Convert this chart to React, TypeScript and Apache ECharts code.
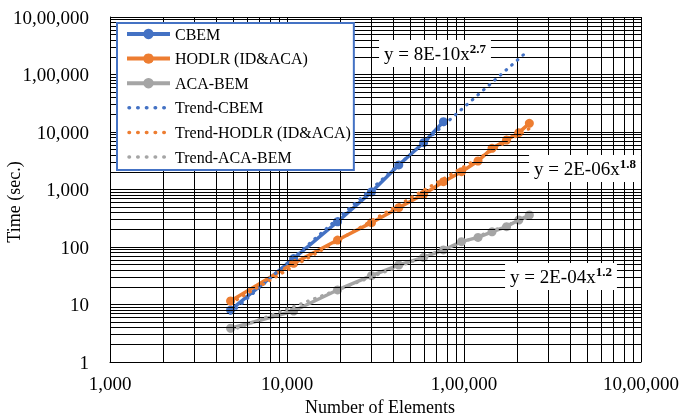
import React, { useEffect, useRef } from "react";
import * as echarts from "echarts";

const FONT = "'Liberation Serif', 'Times New Roman', serif";

const xElements = [4800, 10900, 19300, 30000, 42800, 59100, 76500, 96800, 120000, 144000, 174000, 204000, 234000];
const cbemTime = [8.0, 63, 275, 905, 2670, 6510, 15100];
const hodlrTime = [11.5, 52, 132, 265, 482, 826, 1367, 2040, 3130, 5200, 7260, 9730, 14150];
const acaTime = [3.86, 7.7, 17.9, 31.7, 48.6, 66.2, 88.8, 124, 147, 184, 226, 295, 360];

const trendCbemX = [4800, 218000];
const trendCbemY = [7.05, 224000];
const trendHodlrX = [4800, 234000];
const trendHodlrY = [10.5, 11500];
const trendAcaX = [4800, 234000];
const trendAcaY = [3.5, 337];

const xTickLabels = ["1,000", "10,000", "1,00,000", "10,00,000"];
const yTickLabels = ["1", "10", "100", "1,000", "10,000", "1,00,000", "10,00,000"];

const seriesNames = ["CBEM", "HODLR (ID&ACA)", "ACA-BEM", "Trend-CBEM", "Trend-HODLR (ID&ACA)", "Trend-ACA-BEM"];
const colors = ["#4472C4", "#ED7D31", "#A5A5A5"];

const equations = [
  { base: "y = 8E-10x", exp: "2.7" },
  { base: "y = 2E-06x", exp: "1.8" },
  { base: "y = 2E-04x", exp: "1.2" },
];

function zip(xs: number[], ys: number[]) {
  return ys.map((y, i) => [xs[i], y]);
}

function minorValues(from: number, to: number) {
  const out: number[] = [];
  for (let d = from; d < to; d *= 10) {
    for (let k = 2; k <= 9; k++) out.push(k * d);
  }
  return out;
}

export default function App() {
  const ref = useRef<HTMLDivElement>(null);
  useEffect(() => {
    if (!ref.current) return;
    const chart = echarts.init(ref.current, null, { renderer: "svg" });

    const dataSeries = [cbemTime, hodlrTime, acaTime].map((ys, i) => ({
      name: seriesNames[i],
      type: "line",
      data: zip(xElements, ys),
      symbol: "circle",
      symbolSize: 9,
      showAllSymbol: true,
      z: 4,
      itemStyle: { color: colors[i] },
      lineStyle: { color: colors[i], width: 3.5 },
    }));

    const trends = [
      [trendCbemX, trendCbemY],
      [trendHodlrX, trendHodlrY],
      [trendAcaX, trendAcaY],
    ].map(([xs, ys], i) => ({
      name: seriesNames[i + 3],
      type: "line",
      data: zip(xs, ys),
      symbol: "none",
      z: 5,
      itemStyle: { color: colors[i] },
      lineStyle: { color: colors[i], width: 3.2, type: [0.5, 7], cap: "round" },
    }));

    const gridHost = {
      name: "minor-grid",
      type: "line",
      data: [],
      z: 1,
      silent: true,
      markLine: {
        silent: true,
        symbol: ["none", "none"],
        label: { show: false },
        lineStyle: { color: "#000", width: 1, type: "solid" },
        emphasis: { disabled: true },
        data: [
          ...minorValues(1000, 1000000).map((v) => ({ xAxis: v })),
          ...minorValues(1, 1000000).map((v) => ({ yAxis: v })),
        ],
      },
    };

    const eqPos = [
      [435, 53.5],
      [585, 168.5],
      [561, 276.5],
    ];

    const legendData = seriesNames.map((name, i) =>
      i < 3
        ? { name, itemStyle: { color: colors[i] }, lineStyle: { color: colors[i], width: 4 } }
        : {
            name,
            itemStyle: { opacity: 0 },
            lineStyle: { color: colors[i - 3], width: 3.5, type: [0.5, 8.2], cap: "round", dashOffset: -2 },
          }
    );

    chart.setOption({
      animation: false,
      grid: { left: 110, right: 37, top: 17, bottom: 56 },
      legend: {
        data: legendData,
        orient: "vertical",
        left: 117,
        top: 23,
        padding: [3, 3, 5, 8],
        itemGap: 8.6,
        itemWidth: 43,
        itemHeight: 13,
        backgroundColor: "#fff",
        borderColor: "#4472C4",
        borderWidth: 2,
        borderRadius: 0,
        selectedMode: false,
        textStyle: { fontSize: 16, fontFamily: FONT, color: "#000" },
        z: 10,
      },
      xAxis: {
        type: "log",
        logBase: 10,
        min: 1000,
        max: 1000000,
        splitNumber: 3,
        axisLine: { show: true, lineStyle: { color: "#000", width: 1 } },
        axisTick: { show: false },
        axisLabel: {
          fontSize: 19,
          fontFamily: FONT,
          color: "#000",
          margin: 12,
          formatter: (v: number) => xTickLabels[Math.round(Math.log10(v)) - 3] ?? "",
        },
        splitLine: { show: true, lineStyle: { color: "#000", width: 1 } },
      },
      yAxis: {
        type: "log",
        logBase: 10,
        min: 1,
        max: 1000000,
        splitNumber: 6,
        axisLine: { show: true, lineStyle: { color: "#000", width: 1 } },
        axisTick: { show: false },
        axisLabel: {
          fontSize: 19,
          fontFamily: FONT,
          color: "#000",
          margin: 21,
          formatter: (v: number) => yTickLabels[Math.round(Math.log10(v))] ?? "",
        },
        splitLine: { show: true, lineStyle: { color: "#000", width: 1 } },
      },
      graphic: [
        {
          type: "text",
          x: 14,
          y: 202,
          rotation: Math.PI / 2,
          style: { text: "Time (sec.)", fontSize: 18, fontFamily: FONT, fill: "#000", align: "center", verticalAlign: "middle" },
        },
        {
          type: "text",
          x: 380,
          y: 407,
          style: { text: "Number of Elements", fontSize: 18, fontFamily: FONT, fill: "#000", align: "center", verticalAlign: "middle" },
        },
        ...equations.map((eq, i) => ({
          type: "text",
          x: eqPos[i][0],
          y: eqPos[i][1],
          z: 20,
          style: {
            text: `{a|${eq.base}}{b|${eq.exp}}`,
            align: "center",
            verticalAlign: "middle",
            backgroundColor: "#fff",
            padding: [2, 5, 2, 5],
            rich: {
              a: { fontSize: 19, fontFamily: FONT, fill: "#000", lineHeight: 23 },
              b: { fontSize: 13, fontWeight: "bold", fontFamily: FONT, fill: "#000", lineHeight: 14, verticalAlign: "top" },
            },
          },
        })),
      ],
      series: [gridHost, ...dataSeries, ...trends],
    });
    return () => chart.dispose();
  }, []);
  return <div ref={ref} style={{ position: "fixed", left: 0, top: 0, width: 682, height: 418 }} />;
}
